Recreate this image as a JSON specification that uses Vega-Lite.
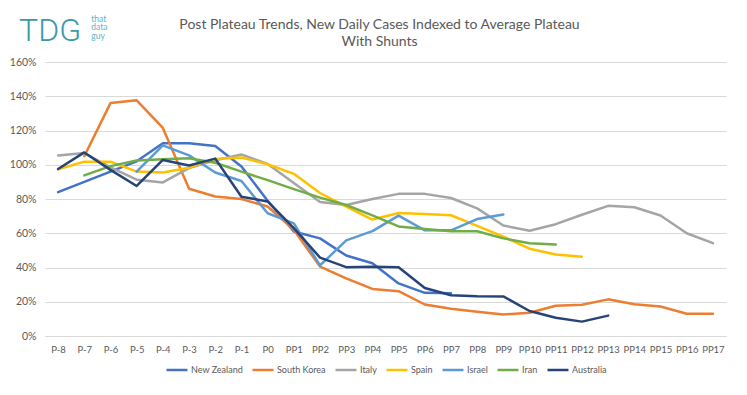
{
  "$schema": "https://vega.github.io/schema/vega-lite/v6.json",
  "width": 681,
  "height": 274,
  "autosize": {"type": "none"},
  "padding": {"left": 45, "top": 62, "right": 21, "bottom": 59},
  "background": "white",
  "title": {
    "text": ["Post Plateau Trends, New Daily Cases Indexed to Average Plateau", "With Shunts"],
    "fontSize": 14,
    "fontWeight": "normal",
    "font": "Lato",
    "color": "#595959",
    "anchor": "middle",
    "frame": "group",
    "dx": -6,
    "dy": 44,
    "offset": 10,
    "lineHeight": 17
  },
  "datasets": {
    "series": [
      {"c": "New Zealand", "p": "P-8", "v": 84},
      {"c": "New Zealand", "p": "P-7", "v": 90},
      {"c": "New Zealand", "p": "P-6", "v": 96},
      {"c": "New Zealand", "p": "P-5", "v": 102},
      {"c": "New Zealand", "p": "P-4", "v": 112.5},
      {"c": "New Zealand", "p": "P-3", "v": 112.5},
      {"c": "New Zealand", "p": "P-2", "v": 111},
      {"c": "New Zealand", "p": "P-1", "v": 99},
      {"c": "New Zealand", "p": "P0", "v": 79},
      {"c": "New Zealand", "p": "PP1", "v": 61},
      {"c": "New Zealand", "p": "PP2", "v": 57},
      {"c": "New Zealand", "p": "PP3", "v": 47},
      {"c": "New Zealand", "p": "PP4", "v": 42.5},
      {"c": "New Zealand", "p": "PP5", "v": 30.7},
      {"c": "New Zealand", "p": "PP6", "v": 25.2},
      {"c": "New Zealand", "p": "PP7", "v": 25},

      {"c": "South Korea", "p": "P-7", "v": 105},
      {"c": "South Korea", "p": "P-6", "v": 136},
      {"c": "South Korea", "p": "P-5", "v": 137.6},
      {"c": "South Korea", "p": "P-4", "v": 121.5},
      {"c": "South Korea", "p": "P-3", "v": 86},
      {"c": "South Korea", "p": "P-2", "v": 81.5},
      {"c": "South Korea", "p": "P-1", "v": 80},
      {"c": "South Korea", "p": "P0", "v": 75.6},
      {"c": "South Korea", "p": "PP1", "v": 62},
      {"c": "South Korea", "p": "PP2", "v": 40.5},
      {"c": "South Korea", "p": "PP3", "v": 33.7},
      {"c": "South Korea", "p": "PP4", "v": 27.5},
      {"c": "South Korea", "p": "PP5", "v": 26.2},
      {"c": "South Korea", "p": "PP6", "v": 18.4},
      {"c": "South Korea", "p": "PP7", "v": 15.9},
      {"c": "South Korea", "p": "PP8", "v": 14.2},
      {"c": "South Korea", "p": "PP9", "v": 12.5},
      {"c": "South Korea", "p": "PP10", "v": 13.6},
      {"c": "South Korea", "p": "PP11", "v": 17.7},
      {"c": "South Korea", "p": "PP12", "v": 18.3},
      {"c": "South Korea", "p": "PP13", "v": 21.4},
      {"c": "South Korea", "p": "PP14", "v": 18.5},
      {"c": "South Korea", "p": "PP15", "v": 17.2},
      {"c": "South Korea", "p": "PP16", "v": 13},
      {"c": "South Korea", "p": "PP17", "v": 13},

      {"c": "Italy", "p": "P-8", "v": 105.4},
      {"c": "Italy", "p": "P-7", "v": 106.8},
      {"c": "Italy", "p": "P-6", "v": 98.5},
      {"c": "Italy", "p": "P-5", "v": 91.3},
      {"c": "Italy", "p": "P-4", "v": 89.7},
      {"c": "Italy", "p": "P-3", "v": 98},
      {"c": "Italy", "p": "P-2", "v": 102.6},
      {"c": "Italy", "p": "P-1", "v": 106},
      {"c": "Italy", "p": "P0", "v": 100.5},
      {"c": "Italy", "p": "PP1", "v": 89.3},
      {"c": "Italy", "p": "PP2", "v": 78.2},
      {"c": "Italy", "p": "PP3", "v": 76.5},
      {"c": "Italy", "p": "PP4", "v": 80},
      {"c": "Italy", "p": "PP5", "v": 83},
      {"c": "Italy", "p": "PP6", "v": 83},
      {"c": "Italy", "p": "PP7", "v": 80.6},
      {"c": "Italy", "p": "PP8", "v": 74.5},
      {"c": "Italy", "p": "PP9", "v": 64.5},
      {"c": "Italy", "p": "PP10", "v": 61.5},
      {"c": "Italy", "p": "PP11", "v": 65.3},
      {"c": "Italy", "p": "PP12", "v": 70.8},
      {"c": "Italy", "p": "PP13", "v": 76},
      {"c": "Italy", "p": "PP14", "v": 75.2},
      {"c": "Italy", "p": "PP15", "v": 70.4},
      {"c": "Italy", "p": "PP16", "v": 60},
      {"c": "Italy", "p": "PP17", "v": 54.2},

      {"c": "Spain", "p": "P-8", "v": 97.4},
      {"c": "Spain", "p": "P-7", "v": 101.8},
      {"c": "Spain", "p": "P-6", "v": 101.8},
      {"c": "Spain", "p": "P-5", "v": 96},
      {"c": "Spain", "p": "P-4", "v": 95.5},
      {"c": "Spain", "p": "P-3", "v": 98.3},
      {"c": "Spain", "p": "P-2", "v": 103.4},
      {"c": "Spain", "p": "P-1", "v": 104.2},
      {"c": "Spain", "p": "P0", "v": 100.3},
      {"c": "Spain", "p": "PP1", "v": 94.7},
      {"c": "Spain", "p": "PP2", "v": 83.5},
      {"c": "Spain", "p": "PP3", "v": 75.5},
      {"c": "Spain", "p": "PP4", "v": 68},
      {"c": "Spain", "p": "PP5", "v": 71.8},
      {"c": "Spain", "p": "PP6", "v": 71.2},
      {"c": "Spain", "p": "PP7", "v": 70.5},
      {"c": "Spain", "p": "PP8", "v": 64.3},
      {"c": "Spain", "p": "PP9", "v": 58},
      {"c": "Spain", "p": "PP10", "v": 51},
      {"c": "Spain", "p": "PP11", "v": 47.6},
      {"c": "Spain", "p": "PP12", "v": 46.3},

      {"c": "Israel", "p": "P-5", "v": 96},
      {"c": "Israel", "p": "P-4", "v": 111.3},
      {"c": "Israel", "p": "P-3", "v": 105.5},
      {"c": "Israel", "p": "P-2", "v": 95.5},
      {"c": "Israel", "p": "P-1", "v": 90.5},
      {"c": "Israel", "p": "P0", "v": 71.7},
      {"c": "Israel", "p": "PP1", "v": 65.8},
      {"c": "Israel", "p": "PP2", "v": 41.2},
      {"c": "Israel", "p": "PP3", "v": 55.8},
      {"c": "Israel", "p": "PP4", "v": 61.2},
      {"c": "Israel", "p": "PP5", "v": 70.3},
      {"c": "Israel", "p": "PP6", "v": 61.7},
      {"c": "Israel", "p": "PP7", "v": 61.7},
      {"c": "Israel", "p": "PP8", "v": 68.3},
      {"c": "Israel", "p": "PP9", "v": 71},

      {"c": "Iran", "p": "P-7", "v": 93.8},
      {"c": "Iran", "p": "P-6", "v": 99.2},
      {"c": "Iran", "p": "P-5", "v": 102.5},
      {"c": "Iran", "p": "P-4", "v": 103.2},
      {"c": "Iran", "p": "P-3", "v": 103.8},
      {"c": "Iran", "p": "P-2", "v": 101.2},
      {"c": "Iran", "p": "P-1", "v": 96},
      {"c": "Iran", "p": "P0", "v": 91},
      {"c": "Iran", "p": "PP1", "v": 85.8},
      {"c": "Iran", "p": "PP2", "v": 80.8},
      {"c": "Iran", "p": "PP3", "v": 76.5},
      {"c": "Iran", "p": "PP4", "v": 70.4},
      {"c": "Iran", "p": "PP5", "v": 64},
      {"c": "Iran", "p": "PP6", "v": 62.5},
      {"c": "Iran", "p": "PP7", "v": 61.2},
      {"c": "Iran", "p": "PP8", "v": 61.2},
      {"c": "Iran", "p": "PP9", "v": 57},
      {"c": "Iran", "p": "PP10", "v": 54.2},
      {"c": "Iran", "p": "PP11", "v": 53.4},

      {"c": "Australia", "p": "P-8", "v": 97.5},
      {"c": "Australia", "p": "P-7", "v": 107.2},
      {"c": "Australia", "p": "P-6", "v": 97},
      {"c": "Australia", "p": "P-5", "v": 87.6},
      {"c": "Australia", "p": "P-4", "v": 102.8},
      {"c": "Australia", "p": "P-3", "v": 99.6},
      {"c": "Australia", "p": "P-2", "v": 103.6},
      {"c": "Australia", "p": "P-1", "v": 81.3},
      {"c": "Australia", "p": "P0", "v": 78.6},
      {"c": "Australia", "p": "PP1", "v": 63},
      {"c": "Australia", "p": "PP2", "v": 45.8},
      {"c": "Australia", "p": "PP3", "v": 40.2},
      {"c": "Australia", "p": "PP4", "v": 40.4},
      {"c": "Australia", "p": "PP5", "v": 40.2},
      {"c": "Australia", "p": "PP6", "v": 28},
      {"c": "Australia", "p": "PP7", "v": 23.8},
      {"c": "Australia", "p": "PP8", "v": 23.2},
      {"c": "Australia", "p": "PP9", "v": 23.1},
      {"c": "Australia", "p": "PP10", "v": 14.6},
      {"c": "Australia", "p": "PP11", "v": 10.7},
      {"c": "Australia", "p": "PP12", "v": 8.4},
      {"c": "Australia", "p": "PP13", "v": 11.9}
    ],
    "logo": [{"big": "TDG", "small": "that\ndata\nguy"}]
  },
  "layer": [
    {
      "data": {"name": "series"},
      "mark": {"type": "line", "strokeWidth": 2.5, "strokeJoin": "round", "strokeCap": "round"},
      "encoding": {
        "x": {
          "field": "p",
          "type": "ordinal",
          "sort": ["P-8","P-7","P-6","P-5","P-4","P-3","P-2","P-1","P0","PP1","PP2","PP3","PP4","PP5","PP6","PP7","PP8","PP9","PP10","PP11","PP12","PP13","PP14","PP15","PP16","PP17"],
          "scale": {"type": "point", "padding": 0.5, "domain": ["P-8","P-7","P-6","P-5","P-4","P-3","P-2","P-1","P0","PP1","PP2","PP3","PP4","PP5","PP6","PP7","PP8","PP9","PP10","PP11","PP12","PP13","PP14","PP15","PP16","PP17"]},
          "axis": {
            "title": null,
            "labelAngle": 0,
            "ticks": false,
            "domain": true,
            "domainColor": "#D9D9D9",
            "domainWidth": 1,
            "labelColor": "#595959",
            "labelFontSize": 9.5,
            "labelFont": "Lato",
            "labelPadding": 8,
            "labelOverlap": false,
            "grid": false
          }
        },
        "y": {
          "field": "v",
          "type": "quantitative",
          "scale": {"domain": [0, 160], "nice": false},
          "axis": {
            "title": null,
            "values": [0, 20, 40, 60, 80, 100, 120, 140, 160],
            "labelExpr": "datum.value + '%'",
            "labelOverlap": false,
            "grid": true,
            "gridColor": "#D9D9D9",
            "gridWidth": 1,
            "domain": false,
            "ticks": false,
            "labelColor": "#595959",
            "labelFontSize": 10.5,
            "labelFont": "Lato",
            "labelPadding": 9
          }
        },
        "color": {
          "field": "c",
          "type": "nominal",
          "scale": {
            "domain": ["New Zealand", "South Korea", "Italy", "Spain", "Israel", "Iran", "Australia"],
            "range": ["#4472C4", "#ED7D31", "#A5A5A5", "#FFC000", "#5B9BD5", "#70AD47", "#264478"]
          },
          "legend": {
            "title": null,
            "orient": "bottom",
            "direction": "horizontal",
            "symbolType": "stroke",
            "symbolStrokeWidth": 2.5,
            "symbolSize": 440,
            "labelFontSize": 9,
            "labelFont": "Lato",
            "labelColor": "#595959",
            "labelOffset": 2,
            "columnPadding": 4,
            "offset": 4
          }
        }
      }
    },
    {
      "data": {"name": "logo"},
      "mark": {"type": "text", "font": "Roboto", "fontWeight": 300, "fontSize": 32, "color": "#3A98AB", "align": "center", "baseline": "alphabetic", "dx": -8, "clip": false},
      "encoding": {
        "x": {"datum": "P-8", "type": "ordinal"},
        "y": {
          "datum": 172,
          "type": "quantitative",
          "axis": {
            "title": null,
            "values": [0, 20, 40, 60, 80, 100, 120, 140, 160],
            "labelExpr": "datum.value + '%'",
            "labelOverlap": false,
            "grid": true,
            "gridColor": "#D9D9D9",
            "gridWidth": 1,
            "domain": false,
            "ticks": false,
            "labelColor": "#595959",
            "labelFontSize": 10.5,
            "labelFont": "Lato",
            "labelPadding": 9
          }
        },
        "text": {"field": "big"}
      }
    },
    {
      "data": {"name": "logo"},
      "mark": {"type": "text", "font": "Lato", "fontSize": 8.5, "color": "#5FB3C4", "align": "left", "baseline": "top", "lineBreak": "\n", "lineHeight": 8.5, "dx": 7, "clip": false},
      "encoding": {
        "x": {"datum": "P-7", "type": "ordinal"},
        "y": {
          "datum": 187.5,
          "type": "quantitative",
          "axis": {
            "title": null,
            "values": [0, 20, 40, 60, 80, 100, 120, 140, 160],
            "labelExpr": "datum.value + '%'",
            "labelOverlap": false,
            "grid": true,
            "gridColor": "#D9D9D9",
            "gridWidth": 1,
            "domain": false,
            "ticks": false,
            "labelColor": "#595959",
            "labelFontSize": 10.5,
            "labelFont": "Lato",
            "labelPadding": 9
          }
        },
        "text": {"field": "small"}
      }
    }
  ],
  "config": {
    "view": {"stroke": null},
    "legend": {"layout": {"bottom": {"anchor": "middle"}}}
  }
}
